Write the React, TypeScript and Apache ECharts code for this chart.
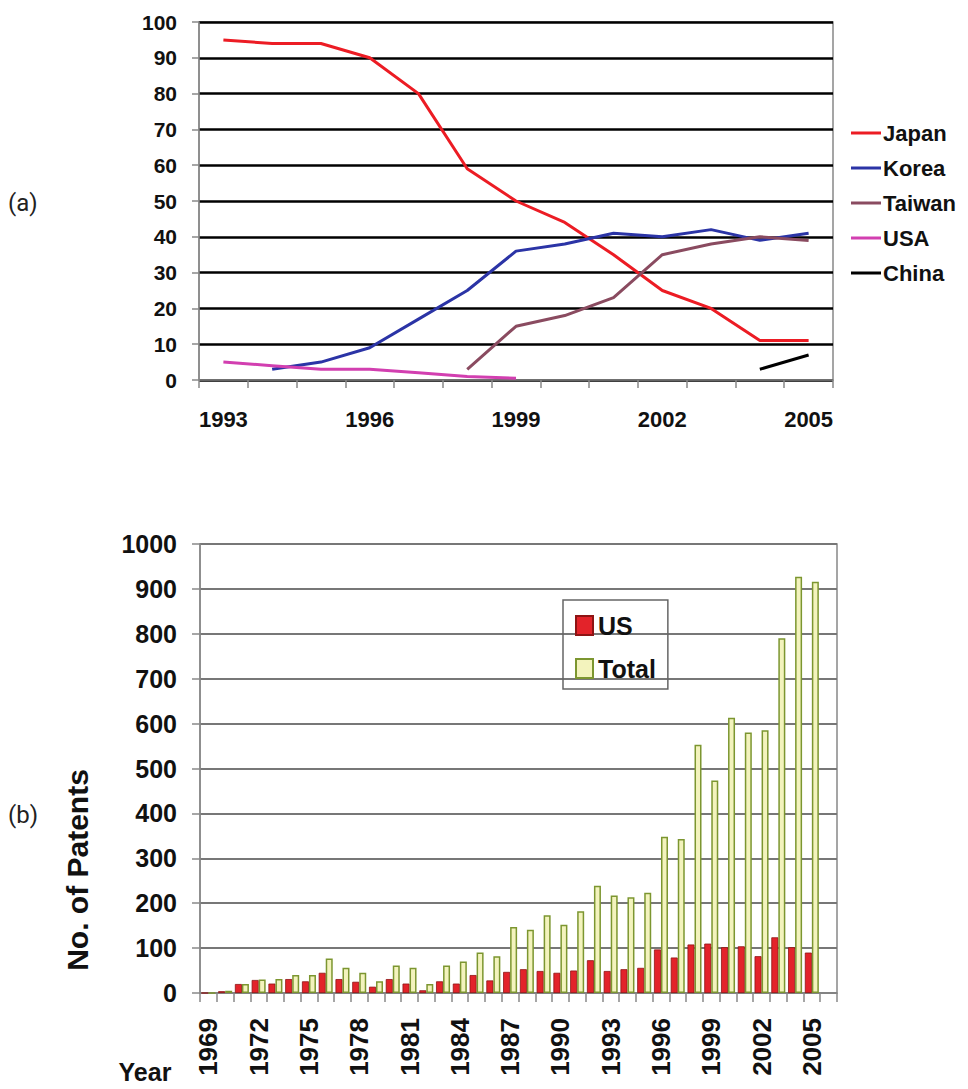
import React, { useEffect, useRef } from 'react';
import * as echarts from 'echarts';

const topYears = ['1993', '1994', '1995', '1996', '1997', '1998', '1999', '2000', '2001', '2002', '2003', '2004', '2005'];
const japan = [95, 94, 94, 90, 80, 59, 50, 44, 35, 25, 20, 11, 11];
const korea = [null, 3, 5, 9, 17, 25, 36, 38, 41, 40, 42, 39, 41];
const taiwan = [null, null, null, null, null, 3, 15, 18, 23, 35, 38, 40, 39];
const usa = [5, 4, 3, 3, 2, 1, 0.5, null, null, null, null, null, null];
const china = [null, null, null, null, null, null, null, null, null, null, null, 3, 7];

const bottomYears = [
  '1969', '1970', '1971', '1972', '1973', '1974', '1975', '1976', '1977', '1978',
  '1979', '1980', '1981', '1982', '1983', '1984', '1985', '1986', '1987', '1988',
  '1989', '1990', '1991', '1992', '1993', '1994', '1995', '1996', '1997', '1998',
  '1999', '2000', '2001', '2002', '2003', '2004', '2005', '2006',
];
const usPatents = [
  0, 4, 20, 29, 21, 31, 26, 45, 31, 25,
  14, 31, 21, 6, 26, 21, 40, 28, 47, 53,
  49, 45, 50, 73, 49, 53, 56, 97, 79, 108,
  110, 102, 104, 82, 124, 102, 90, null,
];
const totalPatents = [
  0, 5, 20, 30, 31, 40, 40, 77, 56, 45,
  26, 61, 56, 20, 61, 70, 90, 82, 147, 141,
  173, 152, 182, 239, 217, 213, 223, 348, 343, 553,
  473, 613, 580, 585, 790, 927, 916, null,
];

const FONT = '"Liberation Sans", Arial, sans-serif';

export default function App() {
  const ref = useRef<HTMLDivElement>(null);
  useEffect(() => {
    const chart = echarts.init(ref.current!, null, { renderer: 'svg' });
    const mkLine = (name: string, data: any[], color: string) => ({
      name,
      type: 'line',
      xAxisIndex: 0,
      yAxisIndex: 0,
      data,
      color,
      showSymbol: false,
      symbol: 'none',
      lineStyle: { color, width: 3 },
      connectNulls: false,
    });
    chart.setOption({
      animation: false,
      backgroundColor: '#fff',
      textStyle: { fontFamily: FONT },
      grid: [
        { left: 199, top: 22, width: 634, height: 358, show: true, borderColor: '#888', borderWidth: 1.5, backgroundColor: 'transparent' },
        { left: 200, top: 544, width: 637, height: 449, show: true, borderColor: '#888', borderWidth: 1.5, backgroundColor: 'transparent' },
      ],
      legend: [
        {
          data: ['Japan', 'Korea', 'Taiwan', 'USA', 'China'],
          orient: 'vertical',
          left: 851,
          top: 122,
          icon: 'rect',
          itemWidth: 30,
          itemHeight: 3,
          itemGap: 13,
          padding: 0,
          itemStyle: { borderWidth: 0 },
          textStyle: { fontSize: 22, lineHeight: 22, fontWeight: 'bold', color: '#111', fontFamily: FONT, padding: [0, 0, 0, -3] },
        },
        {
          data: ['US', 'Total'],
          orient: 'vertical',
          left: 563,
          top: 600,
          icon: 'rect',
          itemWidth: 17,
          itemHeight: 19,
          itemGap: 18,
          padding: [13, 12, 8, 12],
          borderColor: '#666',
          borderWidth: 1.5,
          textStyle: { fontSize: 25, lineHeight: 25, fontWeight: 'bold', color: '#111', fontFamily: FONT },
        },
      ],
      xAxis: [
        {
          gridIndex: 0,
          type: 'category',
          data: topYears,
          boundaryGap: true,
          axisLine: { lineStyle: { color: '#888', width: 1.5 } },
          axisTick: { show: true, interval: 0, length: 8, lineStyle: { color: '#888', width: 1.5 } },
          axisLabel: { interval: 2, margin: 28, fontSize: 22, fontWeight: 'bold', color: '#111', fontFamily: FONT },
          splitLine: { show: false },
        },
        {
          gridIndex: 1,
          type: 'category',
          data: bottomYears,
          boundaryGap: true,
          axisLine: { lineStyle: { color: '#888', width: 1.5 } },
          axisTick: { show: true, interval: 0, length: 9, lineStyle: { color: '#888', width: 1.5 } },
          axisLabel: { interval: 2, rotate: 90, margin: 25, fontSize: 26, fontWeight: 'bold', color: '#111', fontFamily: FONT },
          splitLine: { show: false },
        },
      ],
      yAxis: [
        {
          gridIndex: 0,
          type: 'value',
          min: 0,
          max: 100,
          interval: 10,
          axisLine: { show: true, lineStyle: { color: '#888', width: 1.5 } },
          axisTick: { show: true, length: 7, lineStyle: { color: '#888', width: 1.5 } },
          axisLabel: { margin: 22, fontSize: 21, fontWeight: 'bold', color: '#111', fontFamily: FONT },
          splitLine: { show: true, lineStyle: { color: '#000', width: 2.5 } },
        },
        {
          gridIndex: 1,
          type: 'value',
          min: 0,
          max: 1000,
          interval: 100,
          axisLine: { show: true, lineStyle: { color: '#888', width: 1.5 } },
          axisTick: { show: true, length: 8, lineStyle: { color: '#888', width: 1.5 } },
          axisLabel: { margin: 23, fontSize: 25, fontWeight: 'bold', color: '#111', fontFamily: FONT, formatter: (v: number) => String(v) },
          splitLine: { show: true, lineStyle: { color: '#777', width: 2 } },
        },
      ],
      series: [
        mkLine('Japan', japan, '#ec1c24'),
        mkLine('Korea', korea, '#2b34a6'),
        mkLine('Taiwan', taiwan, '#8a4b60'),
        mkLine('USA', usa, '#d23fb0'),
        mkLine('China', china, '#000000'),
        {
          name: 'US',
          type: 'bar',
          xAxisIndex: 1,
          yAxisIndex: 1,
          data: usPatents,
          barWidth: 7,
          barGap: '0%',
          itemStyle: { color: '#e3232a', borderColor: '#8e1414', borderWidth: 0.8 },
        },
        {
          name: 'Total',
          type: 'bar',
          xAxisIndex: 1,
          yAxisIndex: 1,
          data: totalPatents,
          barWidth: 7,
          barGap: '0%',
          itemStyle: { color: '#f3f3bd', borderColor: '#7c9630', borderWidth: 1.5 },
        },
      ],
      graphic: [
        { type: 'text', left: 8, top: 191, style: { text: '(a)', fontSize: 24, fontFamily: '"Liberation Sans Narrow", "Roboto", sans-serif', fill: '#222' } },
        { type: 'text', left: 8, top: 803, style: { text: '(b)', fontSize: 24, fontFamily: '"Liberation Sans Narrow", "Roboto", sans-serif', fill: '#222' } },
        {
          type: 'text',
          x: 77,
          y: 870,
          rotation: Math.PI / 2,
          style: { text: 'No. of Patents', fontSize: 30, fontWeight: 'bold', fontFamily: FONT, fill: '#111', align: 'center', verticalAlign: 'middle' },
        },
        {
          type: 'text',
          x: 145,
          y: 1072,
          style: { text: 'Year', fontSize: 25, fontWeight: 'bold', fontFamily: FONT, fill: '#111', align: 'center', verticalAlign: 'middle' },
        },
      ],
    });
    return () => chart.dispose();
  }, []);
  return <div ref={ref} style={{ position: 'absolute', left: 0, top: 0, width: 968, height: 1089, background: '#fff' }} />;
}
